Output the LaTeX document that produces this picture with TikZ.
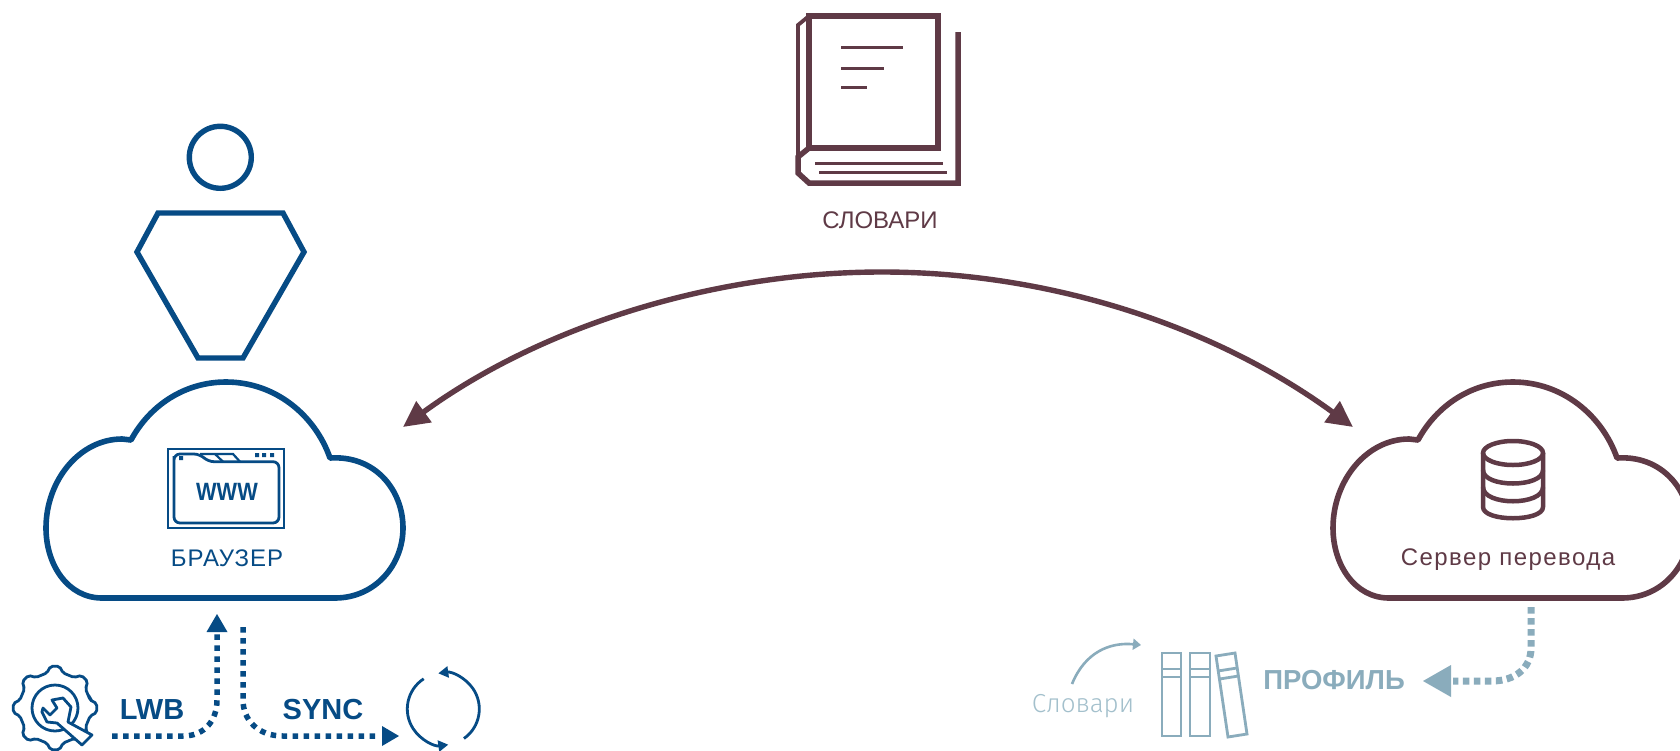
\documentclass[tikz,border=0pt]{standalone}
\usepackage{fontspec}
\setmainfont{Liberation Sans}
\newfontfamily\lightfont{Fira Sans Light}
\usetikzlibrary{arrows.meta}
\definecolor{blu}{HTML}{064B85}
\definecolor{plum}{HTML}{5F3A46}
\definecolor{pale}{HTML}{8AACBC}
\definecolor{paler}{HTML}{A3C0CC}
\tikzset{
  x=1pt,y=-1pt,
  cloud/.style={line width=5.6pt,line join=round},
  lbl/.style={inner sep=0pt,outer sep=0pt,anchor=center},
  dots/.style={line width=5.5pt,dash pattern=on 5.5pt off 5.5pt},
  thinicon/.style={line width=2.8pt,line join=miter},
}
\newcommand{\cloudshape}{(102,598) .. controls (68,598) and (46,565) .. (46,528) .. controls (46,480) and (80,439) .. (122,439) -- (131,440) .. controls (150,405) and (185,382) .. (226,382) .. controls (275,382) and (315,415) .. (330,458) .. controls (375,455) and (403,490) .. (403,528) .. controls (403,565) and (375,598) .. (335,598) -- cycle}
\begin{document}
\begin{tikzpicture}
\useasboundingbox (0,0) rectangle (1680,750);
\clip (0,0) rectangle (1680,750);
\fill[white] (0,0) rectangle (1680,750);

% person
\draw[blu,line width=5.4pt] (220.3,157.3) circle (31);
\draw[blu,line width=5.4pt,line join=miter] (158,213) -- (283,213) -- (304,252) -- (243,358) -- (198,358) -- (137,252) -- cycle;

% clouds
\draw[blu,cloud] \cloudshape;
\draw[plum,cloud,shift={(1287,0)}] \cloudshape;

% browser window
\draw[blu,thinicon] (168,449) rectangle (284,528);
\draw[blu,thinicon,rounded corners=6pt] (174,462) -- (174,454) -- (200,454) -- (208,461.7) -- (279,461.7) -- (279,523) -- (174,523) -- cycle;
\draw[blu,line width=2.2pt] (200,454) -- (233,454) -- (240,461.7) (215,454) -- (223,461.7);
\fill[blu] (179,456) rectangle +(4,4) (255,453) rectangle +(4,4) (262,453) rectangle +(4,4) (270,453) rectangle +(4,4);
\node[lbl,blu] (www) at (227,492) {\fontsize{25}{30}\selectfont\bfseries\scalebox{.87}[1]{WWW}};
\node[lbl,blu] (browser) at (227,558) {\fontsize{24}{28}\selectfont\addfontfeature{LetterSpace=4}БРАУЗЕР};

% database
\begin{scope}[plum,line width=4.5pt]
\draw (1513,453) ellipse (30 and 12);
\draw[line join=round] (1483,453) -- (1483,507) .. controls (1483,522) and (1543,522) .. (1543,507) -- (1543,453);
\draw (1483,470) .. controls (1483,488) and (1543,488) .. (1543,470);
\draw (1483,487) .. controls (1483,506) and (1543,506) .. (1543,487);
\end{scope}
\node[lbl,plum] (server) at (1508,560) {\fontsize{24}{28}\selectfont\addfontfeature{LetterSpace=6}Сервер перевода};

% book
\begin{scope}[plum]
\draw[line width=5.5pt,line join=miter] (809,16) rectangle (938,148);
\draw[line width=5.5pt,line join=miter] (958,32) -- (958,183) -- (809,183) -- (798,173) -- (798,157) -- (809,148);
\draw[line width=3.8pt,line join=miter] (809,16) -- (798,25) -- (798,157);
\draw[line width=3pt] (815,163) -- (943,163) (819,172) -- (947,172);
\draw[line width=3pt] (841,47) -- (903,47) (841,68) -- (884,68) (841,87) -- (867,87);
\end{scope}
\node[lbl,plum] (dict) at (880,220) {\fontsize{24}{28}\selectfont СЛОВАРИ};

% main arc
\coordinate (arcL) at (403,427);
\coordinate (arcT) at (882,272);
\coordinate (arcR) at (1353,427);
\draw[plum,line width=5.4pt,{Triangle[length=26pt,width=25pt]}-{Triangle[length=26pt,width=25pt]}]
  (arcL) .. controls (540,327) and (712,272) .. (arcT) .. controls (1052,272) and (1216,327) .. (arcR);

% gear
\begin{scope}[shift={(55,708)},blu]
\draw[line width=2.8pt,rounded corners=2pt] (-13:36)
  \foreach \a in {0,45,...,315} { -- (\a-13:36) -- (\a-6:42) -- (\a+6:42) -- (\a+13:36) } -- cycle;
\draw[line width=2.8pt] (0,0) circle (23);
\end{scope}
\draw[blu,fill=white,line width=2.8pt,line join=round] (52,700) -- (63,698) -- (71,707) -- (68,722) -- (92,735) -- (82,745) -- (57,723) -- (47,722) -- (42,712) -- (43,708) -- (50,715) -- (57,708) -- cycle;

% LWB / SYNC connectors
\coordinate (lwbA) at (112,736);
\coordinate (lwbB) at (217,614);
\coordinate (syncA) at (243,627);
\coordinate (syncB) at (399,736);
\draw[blu,dots] (lwbA) -- (183,736) .. controls (205,736) and (217,720) .. (217,700) -- (217,634);
\fill[blu] (lwbB) -- (227.5,632) -- (206.5,632) -- cycle;
\draw[blu,dots] (syncA) -- (243,700) .. controls (243,720) and (258,736) .. (283,736) -- (378,736);
\fill[blu] (syncB) -- (382,726) -- (382,746) -- cycle;
\node[lbl,blu] (lwb) at (152,710) {\fontsize{29}{32}\selectfont\bfseries LWB};
\node[lbl,blu] (sync) at (323,710) {\fontsize{29}{32}\selectfont\bfseries SYNC};

% refresh icon
\coordinate (rc) at (443.3,709);
\draw[blu,line width=2.8pt,-{Triangle[length=10pt,width=11pt]}] (rc) ++(55:36) arc (55:-98:36);
\draw[blu,line width=2.8pt,-{Triangle[length=10pt,width=11pt]}] (rc) ++(-123:36) arc (-123:-278:36);

% profile connector
\coordinate (prA) at (1531,607);
\coordinate (prB) at (1423,681);
\draw[pale,line width=7pt,dash pattern=on 6.5pt off 4.5pt] (prA) -- (1531,648) .. controls (1531,668) and (1515,681) .. (1492,681) -- (1453,681);
\fill[pale] (prB) -- (1451,665) -- (1451,697) -- cycle;
\node[lbl,pale] (prof) at (1334,680) {\fontsize{27.5}{30}\selectfont\bfseries ПРОФИЛЬ};

% books
\begin{scope}[pale,line width=2.8pt,line join=miter]
\draw (1162,653) rectangle (1181,736) (1162,669) -- (1181,669) (1162,677) -- (1181,677);
\draw (1190,653) rectangle (1210,736) (1190,669) -- (1210,669) (1190,677) -- (1210,677);
\draw (1216,656) -- (1235,653) -- (1247,734) -- (1228,737) -- cycle (1218,671) -- (1237,668) (1219.5,679) -- (1238.5,676);
\end{scope}

% dictionaries arrow
\coordinate (slA) at (1072,684);
\coordinate (slB) at (1141,645);
\draw[pale,line width=2.6pt,-{Triangle[length=8pt,width=11pt]}] (slA) .. controls (1085,652) and (1110,642) .. (slB);
\node[lbl,paler] (slov) at (1083,706) {\fontsize{26}{30}\selectfont\lightfont Словари};
\end{tikzpicture}
\end{document}
